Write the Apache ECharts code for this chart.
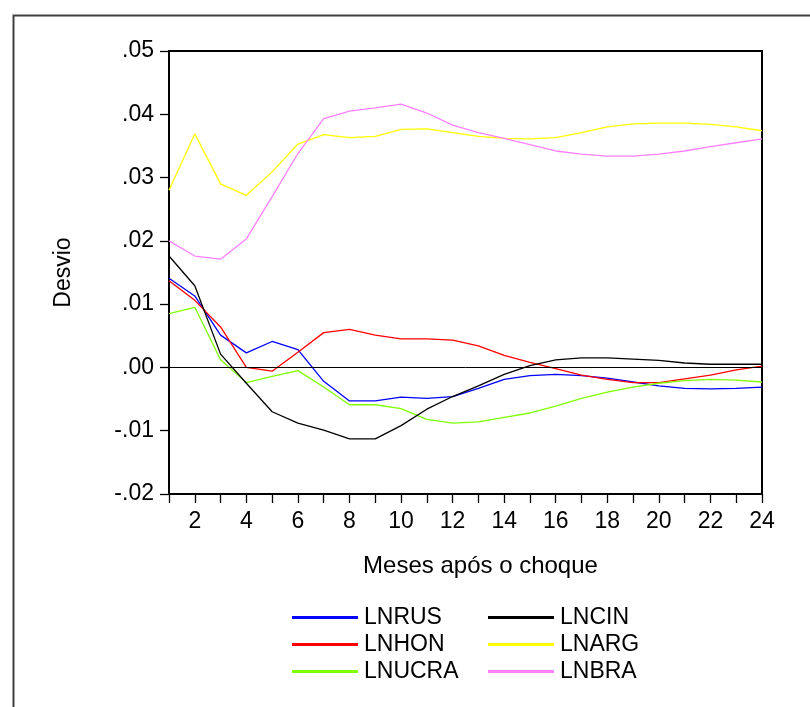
<!DOCTYPE html>
<html>
<head>
<meta charset="utf-8">
<title>Desvio</title>
<script src="https://cdn.jsdelivr.net/npm/echarts@6/dist/echarts.min.js"></script>
<style>
  html, body { margin: 0; padding: 0; background: #fff; }
  #chart { width: 810px; height: 707px; }
</style>
</head>
<body>
<div id="chart"></div>
<script>
// meses após o choque
const months = [1, 2, 3, 4, 5, 6, 7, 8, 9, 10, 11, 12, 13, 14, 15, 16, 17, 18, 19, 20, 21, 22, 23, 24]

const lnrus = [0.0141, 0.0113, 0.0051, 0.0023, 0.0041, 0.0028, -0.0022, -0.0053, -0.0053, -0.0047, -0.0049, -0.0046,
  -0.0033, -0.0019, -0.0013, -0.0011, -0.0013, -0.0017, -0.0023, -0.0029, -0.0033, -0.0034, -0.0033, -0.0031]
const lnhon = [0.0137, 0.0106, 0.0064, 0.0000, -0.0006, 0.0024, 0.0055, 0.0060, 0.0051, 0.0045, 0.0045, 0.0043,
  0.0034, 0.0019, 0.0008, -0.0002, -0.0012, -0.0019, -0.0024, -0.0024, -0.0018, -0.0012, -0.0004, 0.0002]
const lnucra = [0.0085, 0.0095, 0.0012, -0.0024, -0.0014, -0.0005, -0.0031, -0.0059, -0.0059, -0.0065, -0.0082, -0.0088,
  -0.0086, -0.0079, -0.0072, -0.0061, -0.0049, -0.0039, -0.0031, -0.0025, -0.0021, -0.0019, -0.0020, -0.0023]
const lncin = [0.0176, 0.0129, 0.0021, -0.0025, -0.0070, -0.0088, -0.0099, -0.0113, -0.0113, -0.0092, -0.0066, -0.0046,
  -0.0029, -0.0011, 0.0003, 0.0012, 0.0015, 0.0015, 0.0013, 0.0011, 0.0007, 0.0005, 0.0005, 0.0005]
const lnarg = [0.0280, 0.0369, 0.0290, 0.0272, 0.0309, 0.0353, 0.0368, 0.0363, 0.0365, 0.0376, 0.0377, 0.0371,
  0.0365, 0.0362, 0.0361, 0.0363, 0.0371, 0.0380, 0.0385, 0.0386, 0.0386, 0.0384, 0.0380, 0.0374]
const lnbra = [0.0200, 0.0176, 0.0171, 0.0203, 0.0270, 0.0338, 0.0393, 0.0405, 0.0410, 0.0416, 0.0402, 0.0383,
  0.0371, 0.0362, 0.0352, 0.0342, 0.0337, 0.0334, 0.0334, 0.0337, 0.0342, 0.0349, 0.0355, 0.0361]

const yTicks = [-0.02, -0.01, 0.00, 0.01, 0.02, 0.03, 0.04, 0.05]

const fontFamily = 'Arial, "Liberation Sans", sans-serif'
const fontSize = 23

function pairs(values) {
  return values.map((v, i) => [months[i], v])
}

function fmtY(v) {
  // .05 / .00 / -.01 estilo EViews
  const s = Math.abs(v).toFixed(2).replace(/^0/, '')
  return v < 0 ? '-' + s : s
}

function makeSeries(name, values, color, withZero) {
  const s = {
    name: name,
    type: 'line',
    data: pairs(values),
    showSymbol: false,
    symbol: 'none',
    lineStyle: { color: color, width: 1.3 },
    itemStyle: { color: color },
    animation: false
  }
  if (withZero) {
    s.markLine = {
      silent: true,
      symbol: 'none',
      label: { show: false },
      lineStyle: { color: '#000', width: 1, type: 'solid' },
      data: [{ yAxis: 0 }]
    }
  }
  return s
}

const legendBase = {
  orient: 'vertical',
  top: 601,
  itemWidth: 66,
  itemHeight: 3,
  itemGap: 4,
  icon: 'rect',
  textStyle: { fontSize: fontSize, lineHeight: 23, color: '#000', padding: [0, 0, 0, 1] }
}

const chart = echarts.init(document.getElementById('chart'))

chart.setOption({
  backgroundColor: '#fff',
  textStyle: { fontFamily: fontFamily },
  graphic: [{
    type: 'rect',
    left: 11,
    top: 13,
    shape: { width: 900, height: 800 },
    style: { fill: 'none', stroke: '#404040', lineWidth: 2 },
    silent: true
  }],
  grid: {
    left: 169,
    top: 51,
    width: 593,
    height: 443,
    show: true,
    borderColor: '#000',
    borderWidth: 2,
    backgroundColor: 'transparent'
  },
  legend: [
    Object.assign({}, legendBase, { left: 287, data: ['LNRUS', 'LNHON', 'LNUCRA'] }),
    Object.assign({}, legendBase, { left: 483, data: ['LNCIN', 'LNARG', 'LNBRA'] })
  ],
  xAxis: {
    type: 'value',
    min: 1,
    max: 24,
    interval: 1,
    name: 'Meses após o choque',
    nameLocation: 'middle',
    nameGap: 60,
    // o título fica um pouco à direita do centro no original
    nameTextStyle: { fontSize: 24, color: '#000', padding: [0, 0, 0, 30] },
    axisLine: { onZero: false, lineStyle: { color: '#000', width: 2 } },
    axisTick: { length: 9, lineStyle: { color: '#000', width: 1.3 } },
    axisLabel: {
      fontSize: fontSize,
      color: '#000',
      margin: 16,
      formatter: v => (v % 2 === 0 ? String(v) : '')
    },
    splitLine: { show: false }
  },
  yAxis: {
    type: 'value',
    min: yTicks[0],
    max: yTicks[yTicks.length - 1],
    interval: 0.01,
    name: 'Desvio',
    nameLocation: 'middle',
    nameRotate: 90,
    nameGap: 94,
    nameTextStyle: { fontSize: fontSize, color: '#000' },
    axisLine: { show: true, onZero: false, lineStyle: { color: '#000', width: 2 } },
    axisTick: { show: true, length: 9, lineStyle: { color: '#000', width: 1.3 } },
    axisLabel: { fontSize: fontSize, color: '#000', margin: 15, formatter: fmtY },
    splitLine: { show: false }
  },
  series: [
    makeSeries('LNRUS', lnrus, '#0000ff', true),
    makeSeries('LNHON', lnhon, '#ff0000'),
    makeSeries('LNUCRA', lnucra, '#80ff00'),
    makeSeries('LNCIN', lncin, '#000000'),
    makeSeries('LNARG', lnarg, '#ffff00'),
    makeSeries('LNBRA', lnbra, '#ff80ff')
  ]
})
</script>
</body>
</html>
